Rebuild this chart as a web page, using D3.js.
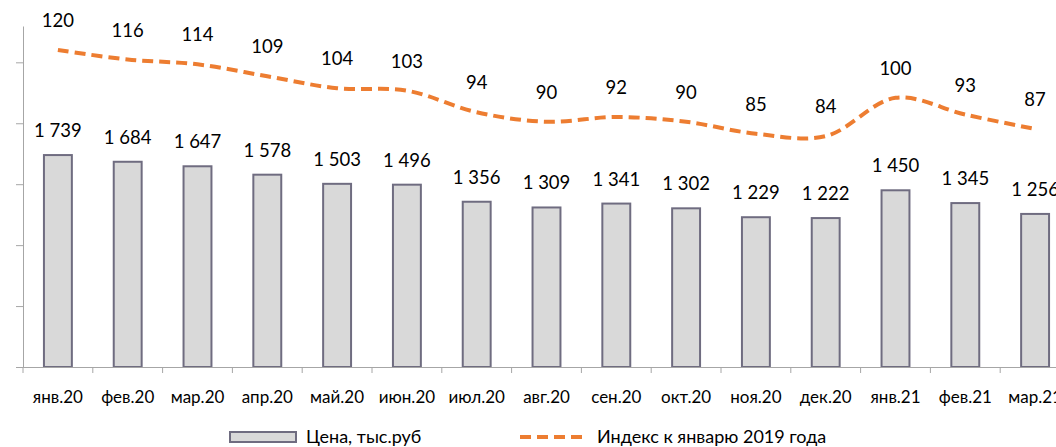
<!DOCTYPE html>
<html><head><meta charset="utf-8">
<script src="https://cdn.jsdelivr.net/npm/d3@7/dist/d3.min.js"></script>
<style>
html,body{margin:0;padding:0;background:#fff;overflow:hidden}
text{font-family:Lato,"Open Sans",sans-serif;fill:#000}
</style></head>
<body>
<svg id="chart" width="1056" height="447"></svg>
<script>
const categories = ["янв.20","фев.20","мар.20","апр.20","май.20","июн.20","июл.20","авг.20","сен.20","окт.20","ноя.20","дек.20","янв.21","фев.21","мар.21"];
const priceValues = [1739,1684,1647,1578,1503,1496,1356,1309,1341,1302,1229,1222,1450,1345,1256];
const indexValues = [120,116,114,109,104,103,94,90,92,90,85,84,100,93,87];
const yTickValues = [0,500,1000,1500,2000,2500];
const legendLabels = ["Цена, тыс.руб","Индекс к январю 2019 года"];

(function(){
const svg = d3.select("#chart");
const x0 = 23, step = 69.8, plotBottom = 367, plotTop = 26;
const x = d3.scaleBand().domain(categories).range([x0, x0 + step*categories.length]).paddingInner(0.6).paddingOuter(0.3);
const y = d3.scaleLinear().domain([0, 2798]).range([plotBottom, plotTop]);
const y2 = d3.scaleLinear().domain([-12.4, 130]).range([plotBottom, plotTop]);
const cx = d => x(d) + x.bandwidth()/2;
const fmt = v => d3.format(",")(v).replace(/,/g, " ");
const axisColor = "#a6a6a6";

// Y axis (labels hidden)
const ya = svg.append("g").attr("transform",`translate(${x0},0)`)
  .call(d3.axisLeft(y).tickValues(yTickValues).tickFormat("").tickSize(7).tickSizeOuter(0));
ya.selectAll("path,line").attr("stroke",axisColor).attr("stroke-width",1);

// Bars
svg.append("g").selectAll("rect").data(priceValues).join("rect")
  .attr("x",(d,i)=>x(categories[i]))
  .attr("y",d=>y(d))
  .attr("width",x.bandwidth())
  .attr("height",d=>plotBottom-y(d))
  .attr("fill","#d9d9d9").attr("stroke","#6f6c80").attr("stroke-width",2);

// X axis
const xa = svg.append("g").attr("transform",`translate(0,${plotBottom})`)
  .call(d3.axisBottom(x).tickSize(0).tickSizeOuter(0).tickPadding(24));
xa.select(".domain").remove();
xa.selectAll("text").attr("font-size","17px").attr("font-family","Lato").attr("fill","#000");
svg.append("line").attr("x1",16).attr("x2",1056).attr("y1",plotBottom+0.5).attr("y2",plotBottom+0.5).attr("stroke",axisColor);
const boundaries = d3.range(categories.length+1).map(i => x0 + i*step);
svg.append("g").selectAll("line").data(boundaries).join("line")
  .attr("x1",d=>d).attr("x2",d=>d).attr("y1",plotBottom).attr("y2",plotBottom+6).attr("stroke",axisColor);

// Bar labels
svg.append("g").selectAll("text").data(priceValues).join("text")
  .attr("x",(d,i)=>cx(categories[i]))
  .attr("y",d=>y(d)-18)
  .attr("text-anchor","middle").attr("font-size","18.5px")
  .text(d=>fmt(d));

// Index line
const line = d3.line().x((d,i)=>cx(categories[i])).y(d=>y2(d)).curve(d3.curveCatmullRom.alpha(0.5));
svg.append("path").datum(indexValues).attr("d",line)
  .attr("fill","none").attr("stroke","#ed7d31").attr("stroke-width",4)
  .attr("stroke-dasharray","11,6");

svg.append("g").selectAll("text").data(indexValues).join("text")
  .attr("x",(d,i)=>cx(categories[i]))
  .attr("y",d=>y2(d)-23)
  .attr("text-anchor","middle").attr("font-size","18.5px")
  .text(d=>d);

// Legend
const lg = svg.append("g");
lg.append("rect").attr("x",230).attr("y",432).attr("width",66).attr("height",10)
  .attr("fill","#d9d9d9").attr("stroke","#6f6c80").attr("stroke-width",2);
lg.append("text").attr("x",306).attr("y",442.5).attr("font-size","18px").text(legendLabels[0]);
lg.append("line").attr("x1",520).attr("x2",586).attr("y1",437).attr("y2",437)
  .attr("stroke","#ed7d31").attr("stroke-width",4).attr("stroke-dasharray","11,6");
lg.append("text").attr("x",597).attr("y",442.5).attr("font-size","18px").text(legendLabels[1]);
})();
</script>
</body></html>
